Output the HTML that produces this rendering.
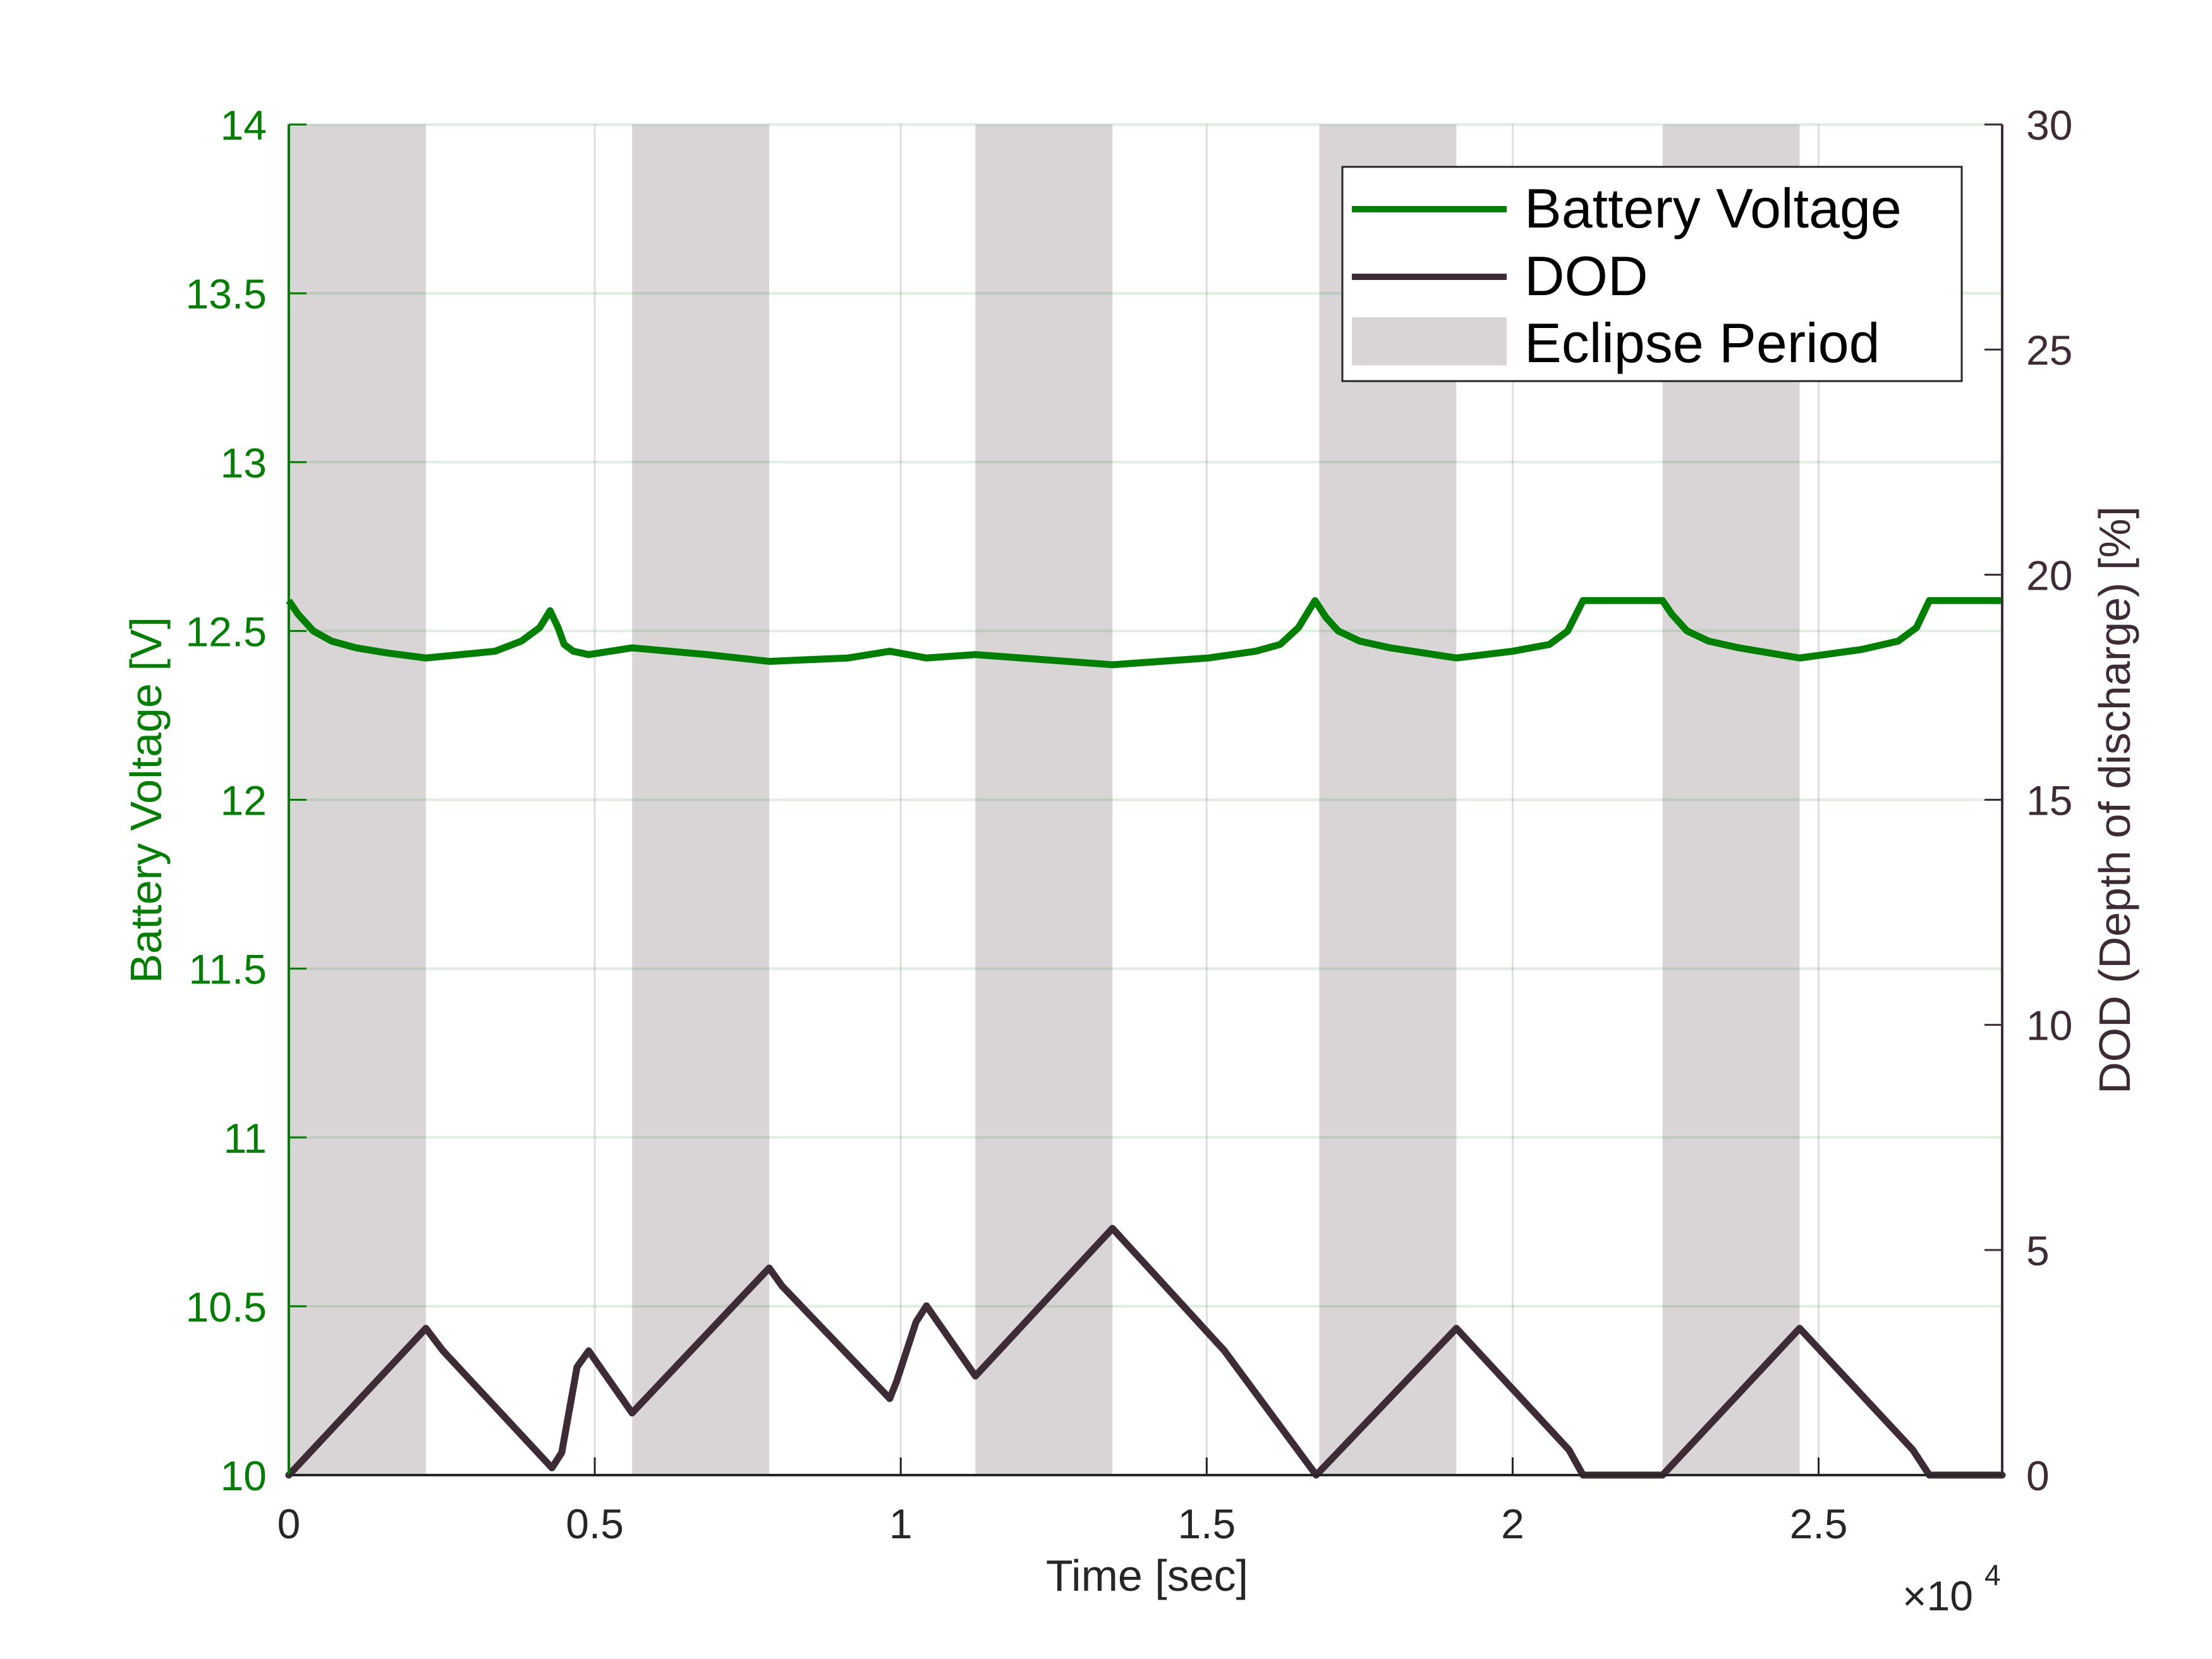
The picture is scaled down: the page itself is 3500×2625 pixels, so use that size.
<!DOCTYPE html>
<html><head><meta charset="utf-8"><style>
html,body{margin:0;padding:0;background:#fff;}
svg{display:block;font-family:"Liberation Sans","IPAGothic",sans-serif;}
</style></head><body>
<svg id="chart" width="3500" height="2625" viewBox="0 0 3500 2625" xmlns="http://www.w3.org/2000/svg">
<g id="shade"></g>
<g id="grid"></g>
<g id="series"></g>
<g id="axes"></g>
<g id="legend">
  <rect x="2124" y="264" width="980" height="339" fill="#fff" stroke="#262626" stroke-width="3"/>
  <line x1="2139" y1="331" x2="2384" y2="331" stroke="#008000" stroke-width="10"/>
  <text x="2412" y="360" font-size="88" fill="#000">Battery Voltage</text>
  <line x1="2139" y1="438" x2="2384" y2="438" stroke="#3d2b35" stroke-width="10"/>
  <text x="2412" y="467" font-size="88" fill="#000">DOD</text>
  <rect x="2139" y="502" width="245" height="76" fill="#d9d5d7"/>
  <text x="2412" y="573" font-size="88" fill="#000">Eclipse Period</text>
</g>
</svg>
<script>
const eclipseStart = [0, 5610, 11220, 16840, 22450];
const eclipseLength = [2240, 2240, 2240, 2240, 2240];
const xTicks = [0, 5000, 10000, 15000, 20000, 25000];
const xTickLabels = ["0", "0.5", "1", "1.5", "2", "2.5"];
const vTicks = [10, 10.5, 11, 11.5, 12, 12.5, 13, 13.5, 14];
const vTickLabels = ["10", "10.5", "11", "11.5", "12", "12.5", "13", "13.5", "14"];
const dTicks = [0, 5, 10, 15, 20, 25, 30];
const dTickLabels = ["0", "5", "10", "15", "20", "25", "30"];
const vTime = [0,150,400,700,1100,1600,2240,3370,3800,4100,4270,4400,4500,4650,4900,5610,6840,7850,9140,9820,10420,11220,13460,15030,15800,16200,16500,16770,16950,17150,17500,18000,19080,20000,20600,20900,21150,22450,22600,22850,23200,23700,24690,25700,26300,26600,26810,28000];
const vVal = [12.59,12.55,12.50,12.47,12.45,12.435,12.42,12.44,12.47,12.51,12.56,12.51,12.46,12.44,12.43,12.45,12.43,12.41,12.42,12.44,12.42,12.43,12.40,12.42,12.44,12.46,12.51,12.59,12.54,12.50,12.47,12.45,12.42,12.44,12.46,12.50,12.59,12.59,12.55,12.50,12.47,12.45,12.42,12.445,12.47,12.51,12.59,12.59];
const dTime = [0,2240,2520,4300,4460,4710,4900,5610,7850,8060,9820,9930,10250,10420,11220,13460,15290,16790,19080,20920,21150,22450,24690,26540,26810,28000];
const dVal = [0,3.26,2.76,0.16,0.5,2.4,2.76,1.38,4.6,4.2,1.7,2.07,3.4,3.76,2.2,5.48,2.76,0,3.26,0.56,0,0,3.26,0.56,0,0];

const L=457,R=3168,T=197,B=2334;
const xs=t=>L+(t/28000)*(R-L);
const yv=v=>B-(v-10)/4*(B-T);
const yd=d=>B-d/30*(B-T);
const NS="http://www.w3.org/2000/svg";
function mk(tag,attrs,parent,txt){const e=document.createElementNS(NS,tag);for(const k in attrs)e.setAttribute(k,attrs[k]);if(txt!==undefined)e.textContent=txt;parent.appendChild(e);return e;}
const shade=document.getElementById('shade'),grid=document.getElementById('grid'),series=document.getElementById('series'),axes=document.getElementById('axes');

eclipseStart.forEach((s,i)=>{
  const r=mk('rect',{x:xs(s),y:T,width:xs(s+eclipseLength[i])-xs(s),height:B-T,fill:'#d9d5d7'},shade);
  
  
});
xTicks.forEach((t,i)=>{
  const x=xs(t);
  if(i>0){const g=mk('line',{x1:x,y1:T,x2:x,y2:B,stroke:'#262626','stroke-opacity':0.15,'stroke-width':3},grid);
  
  }
  const tk=mk('line',{x1:x,y1:B,x2:x,y2:B-28,stroke:'#262626','stroke-width':3},axes);
  
  
  const lb=mk('text',{x:x,y:2434,'font-size':66,'text-anchor':'middle',fill:'#262626'},axes,xTickLabels[i]);
  
  
});
vTicks.forEach((v,i)=>{
  const y=yv(v);
  if(i>0){const g=mk('line',{x1:L,y1:y,x2:R,y2:y,stroke:'#008000','stroke-opacity':0.13,'stroke-width':4},grid);
  
  }
  const tk=mk('line',{x1:L,y1:y,x2:L+28,y2:y,stroke:'#008000','stroke-width':3},axes);
  
  
  const lb=mk('text',{x:422,y:y+24,'font-size':66,'text-anchor':'end',fill:'#008000'},axes,vTickLabels[i]);
  
  
});
dTicks.forEach((d,i)=>{
  const y=yd(d);
  const tk=mk('line',{x1:R,y1:y,x2:R-28,y2:y,stroke:'#3d2b35','stroke-width':3},axes);
  
  
  const lb=mk('text',{x:3206,y:y+24,'font-size':66,'text-anchor':'start',fill:'#3d2b35'},axes,dTickLabels[i]);
  
  
});
const vl=mk('polyline',{points:vTime.map((t,i)=>xs(t)+','+yv(vVal[i])).join(' '),fill:'none',stroke:'#008000','stroke-width':11,'stroke-linejoin':'round'},series);


const dl=mk('polyline',{points:dTime.map((t,i)=>xs(t)+','+yd(dVal[i])).join(' '),fill:'none',stroke:'#3d2b35','stroke-width':11,'stroke-linejoin':'round','stroke-linecap':'round'},series);



const a1=mk('line',{x1:L,y1:T,x2:L,y2:B,stroke:'#008000','stroke-width':4},axes);


const a2=mk('line',{x1:R,y1:T,x2:R,y2:B,stroke:'#3d2b35','stroke-width':4},axes);


const a3=mk('line',{x1:L,y1:B,x2:R,y2:B,stroke:'#262626','stroke-width':4},axes);


const xl=mk('text',{x:1815,y:2517,'font-size':70,'text-anchor':'middle',fill:'#262626'},axes,'Time [sec]');


const ex=mk('text',{x:3010,y:2548,'font-size':66,fill:'#262626'},axes,'×10');


const ex2=mk('text',{x:3140,y:2508,'font-size':46,fill:'#262626'},axes,'4');


const yl=mk('text',{x:0,y:0,'font-size':70,'text-anchor':'middle',fill:'#008000',transform:'translate(255,1266) rotate(-90)'},axes,'Battery Voltage [V]');


const yr=mk('text',{x:0,y:0,'font-size':70,'text-anchor':'middle',fill:'#3d2b35',transform:'translate(3370,1266) rotate(-90)'},axes,'DOD (Depth of discharge) [%]');


</script>
</body></html>
